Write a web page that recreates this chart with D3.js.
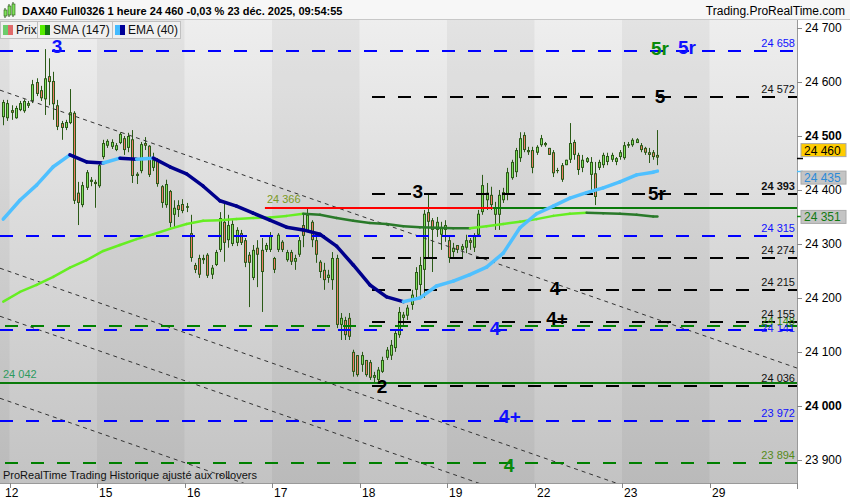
<!DOCTYPE html>
<html><head><meta charset="utf-8">
<script src="https://cdn.jsdelivr.net/npm/d3@7/dist/d3.min.js"></script>
<style>
html,body{margin:0;padding:0;background:#fff;}
svg{display:block;font-family:Arial,"Liberation Sans",sans-serif;}
</style></head><body>
<svg id="c" width="850" height="500"></svg>
<script>
// ---------- DATA ----------
const dayLabels = ["12","15","16","17","18","19","22","23","29"];
const barsBefore = 2, barsPerDay = 21;
const open = [24535,24533,24548,24533,24548,24546,24556,24565,24600,24585,
24568,24611,24602,24557,24524,24515,24524,24543,24395,24372,
24404,24415,24415,24407,24461,24482,24480,24474,24487,24496,
24478,24494,24426,24435,24487,24482,24441,24456,24407,24372,
24398,24354,24372,24374,24367,24320,24261,24274,24270,24280,
24243,24261,24289,24341,24307,24300,24302,24320,24307,24280,
24237,24293,24289,24289,24289,24274,24289,24304,24270,24285,
24267,24280,24335,24322,24341,24307,24267,24252,24237,24233,
24274,24150,24159,24163,24100,24094,24076,24085,24081,24052,
24048,24063,24089,24093,24107,24131,24163,24167,24187,24215,
24224,24252,24359,24344,24326,24317,24326,24307,24285,24298,
24289,24293,24307,24293,24317,24359,24381,24391,24354,24354,
24381,24391,24422,24433,24459,24502,24474,24474,24469,24483,
24483,24478,24470,24437,24446,24446,24456,24489,24465,24441,
24452,24428,24431,24441,24446,24452,24456,24452,24461,24459,
24482,24483,24487,24483,24478,24470,24470,24465];
const high = [24567,24567,24557,24556,24565,24568,24565,24604,24607,24593,
24661,24644,24619,24567,24528,24530,24587,24546,24415,24415,
24437,24424,24419,24450,24493,24494,24494,24487,24507,24500,
24506,24511,24433,24489,24498,24483,24469,24459,24409,24419,
24400,24381,24381,24383,24376,24354,24265,24280,24280,24283,
24261,24289,24359,24376,24354,24344,24331,24326,24311,24285,
24298,24307,24311,24302,24322,24276,24320,24307,24289,24289,
24280,24313,24357,24367,24344,24320,24270,24265,24252,24285,
24280,24172,24165,24172,24104,24094,24100,24085,24085,24063,
24072,24091,24109,24122,24141,24183,24174,24187,24215,24257,
24276,24363,24391,24348,24350,24341,24344,24313,24302,24298,
24300,24317,24311,24320,24363,24428,24413,24406,24378,24400,
24404,24441,24456,24478,24507,24507,24480,24480,24483,24502,
24489,24478,24474,24441,24450,24456,24524,24493,24469,24465,
24461,24461,24452,24456,24469,24469,24469,24461,24474,24489,
24489,24496,24496,24487,24480,24478,24474,24511];
const low = [24520,24528,24530,24532,24546,24543,24552,24561,24574,24565,
24539,24557,24530,24511,24493,24511,24522,24374,24335,24368,
24400,24407,24367,24404,24457,24478,24476,24472,24485,24465,
24470,24413,24411,24431,24474,24424,24435,24406,24367,24367,
24331,24331,24350,24357,24359,24267,24246,24237,24263,24237,
24235,24259,24285,24267,24293,24296,24296,24298,24257,24183,
24233,24220,24174,24285,24285,24246,24285,24285,24267,24261,
24252,24276,24294,24322,24294,24265,24237,24215,24228,24215,
24144,24122,24122,24122,24054,24054,24063,24054,24048,24043,
24043,24061,24085,24085,24100,24126,24150,24159,24178,24200,
24200,24200,24274,24248,24313,24289,24304,24265,24276,24283,
24274,24283,24289,24285,24313,24354,24363,24363,24326,24326,
24376,24381,24419,24424,24452,24470,24465,24431,24465,24480,
24480,24465,24424,24431,24415,24446,24450,24456,24428,24433,
24450,24400,24372,24437,24441,24446,24452,24446,24456,24456,
24478,24480,24487,24470,24465,24450,24456,24446];
const close = [24563,24561,24543,24552,24561,24565,24561,24596,24578,24570,
24607,24600,24559,24517,24515,24526,24544,24380,24376,24409,
24433,24419,24411,24446,24487,24491,24489,24483,24504,24474,
24500,24426,24430,24485,24482,24428,24456,24411,24376,24411,
24339,24367,24363,24361,24370,24274,24252,24243,24274,24241,
24256,24285,24348,24302,24335,24337,24326,24302,24265,24265,
24289,24280,24248,24298,24315,24252,24317,24289,24285,24267,
24274,24307,24315,24354,24307,24280,24248,24233,24243,24274,
24150,24163,24131,24128,24063,24057,24094,24057,24052,24057,
24067,24085,24104,24113,24135,24174,24169,24182,24206,24248,
24261,24356,24341,24326,24341,24330,24335,24274,24293,24289,
24296,24307,24302,24315,24356,24409,24395,24372,24367,24391,
24396,24433,24452,24474,24496,24474,24470,24441,24480,24496,
24487,24465,24431,24435,24419,24456,24487,24465,24437,24456,
24459,24452,24387,24452,24465,24463,24465,24459,24470,24483,
24485,24493,24494,24474,24469,24465,24461,24460];

const indBars = [0,4,8,12,16,20,24,28,32,36,40,44,48,52,56,60,64,68,72,76,80,84,88,92,96,100,104,108,112,116,120,124,128,132,136,140,144,148,152,156,157];
const ema40 = [24346,24381,24409,24443,24465,24452,24450,24459,24457,24459,24443,24430,24407,24380,24370,24357,24344,24331,24326,24318,24296,24261,24224,24202,24193,24200,24222,24231,24243,24257,24283,24330,24356,24370,24385,24395,24404,24415,24428,24433,24435];
const sma147 = [24193,24211,24224,24239,24256,24270,24287,24298,24309,24318,24328,24337,24343,24344,24346,24348,24349,24352,24356,24354,24348,24343,24339,24337,24333,24331,24330,24329,24329,24333,24337,24341,24346,24352,24356,24358,24357,24356,24354,24351,24351];

const yTicks = [23900,24000,24100,24200,24300,24400,24500,24600,24700];
const blueLevels = [24658,24315,24141,23972];
const blackLevels = [24572,24393,24274,24215,24155,24036];
const greenDashLevels = [24148,23894];
const supportLevel = 24042;
const resistLevel = 24366;
const blackStartBar = 89;
const resistStartBar = 63.3, resistBreakBar = 118;
// trend channel: [bar, value] pairs
const trendLines = [
  [[-0.28,24585],[191,24070]],
  [[-0.28,24255],[191,23740]],
  [[-0.28,24166],[191,23651]],
  [[-0.28,24014],[191,23499]]
];
const waveLabels = [
  {t:"3",bar:13.4,v:24666,c:"blue"},
  {t:"5r",bar:158.1,v:24663,c:"green"},
  {t:"5r",bar:164.6,v:24665,c:"blue"},
  {t:"5",bar:158.1,v:24574,c:"black"},
  {t:"3",bar:100.0,v:24398,c:"black"},
  {t:"5r",bar:157.4,v:24394,c:"black"},
  {t:"4",bar:132.9,v:24219,c:"black"},
  {t:"4+",bar:133.4,v:24163,c:"black"},
  {t:"4",bar:118.5,v:24144,c:"blue"},
  {t:"2",bar:91.4,v:24037,c:"black"},
  {t:"4+",bar:122.1,v:23981,c:"blue"},
  {t:"4",bar:121.9,v:23891,c:"green"}
];
const lastPrice = 24460, lastEma = 24435, lastSma = 24351;

// ---------- DRAW ----------
const svg = d3.select('#c');
const PR = 797, PT = 20, PB = 483;
const x = d3.scaleLinear().domain([-0.28, 191]).range([0, PR]);
const y = d3.scaleLinear().domain([23857, 24715]).range([PB, PT]);
const fmt = v => d3.format(",")(v).replace(",", " ");
const colors = {blue:"#1010ff", green:"#0a8a0a", black:"#000"};

const defs = svg.append('defs');
const g1 = defs.append('linearGradient').attr('id','bg').attr('x1',0).attr('y1',0).attr('x2',0).attr('y2',1);
g1.append('stop').attr('offset','0%').attr('stop-color','#eeeeee');
g1.append('stop').attr('offset','100%').attr('stop-color','#c3c3c3');
defs.append('clipPath').attr('id','clip').append('rect').attr('x',0).attr('y',PT).attr('width',PR).attr('height',PB-PT);

svg.append('rect').attr('width',850).attr('height',500).attr('fill','#fff');
// title bar
svg.append('rect').attr('x',0).attr('y',0).attr('width',850).attr('height',PT).attr('fill','#f7f7f7');
svg.append('line').attr('x1',0).attr('x2',850).attr('y1',PT-0.5).attr('y2',PT-0.5).attr('stroke','#c8c8c8');

const plotG = svg.append('g').attr('clip-path','url(#clip)');
plotG.append('rect').attr('x',0).attr('y',PT).attr('width',PR).attr('height',PB-PT).attr('fill','url(#bg)');
// day bands
const bounds = d3.range(-1, dayLabels.length);
plotG.selectAll('rect.band').data(bounds.filter(k => k % 2 !== 0)).join('rect')
  .attr('x', k => x(barsBefore + barsPerDay*k)).attr('y', PT)
  .attr('width', x(barsPerDay) - x(0)).attr('height', PB-PT)
  .attr('fill','#000').attr('opacity',0.045);

// candles
const bars = open.map((o,i) => ({i, o, h:high[i], l:low[i], c:close[i]}));
const cg = plotG.append('g');
bars.forEach(b => {
  const cx = Math.round(x(b.i + 0.5));
  cg.append('line').attr('x1',cx+0.5).attr('x2',cx+0.5).attr('y1',y(b.h)).attr('y2',y(b.l))
    .attr('stroke','#2b5a17').attr('stroke-width',1);
  const top = Math.min(y(b.o), y(b.c)), bot = Math.max(y(b.o), y(b.c));
  const hgt = Math.max(1, bot-top);
  cg.append('rect').attr('x',cx-1).attr('y',top).attr('width',3).attr('height',hgt).attr('fill','#2b5a17');
  if (hgt > 2) cg.append('rect').attr('x',cx).attr('y',top+1).attr('width',1).attr('height',hgt-2)
    .attr('fill', b.c >= b.o ? '#7ee05a' : '#ee7b66');
});

// trend lines
trendLines.forEach(tl => {
  plotG.append('line').attr('x1',x(tl[0][0])).attr('y1',y(tl[0][1])).attr('x2',x(tl[1][0])).attr('y2',y(tl[1][1]))
    .attr('stroke','#333').attr('stroke-width',1).attr('stroke-dasharray','4,4');
});

// horizontal levels
const hline = (v, x0, col, dash, w) => plotG.append('line').attr('x1',x0).attr('x2',PR)
  .attr('y1',Math.round(y(v))).attr('y2',Math.round(y(v))).attr('stroke',col).attr('stroke-width',w||2)
  .attr('stroke-dasharray',dash||null);
blueLevels.forEach(v => hline(v, 0, '#0000ff', '13,13'));
greenDashLevels.forEach(v => hline(v, 5, '#008000', '13,13'));
blackLevels.forEach(v => hline(v, x(blackStartBar), '#000', '13,13'));
hline(supportLevel, 0, '#0a7a0a', null);
plotG.append('line').attr('x1',x(resistStartBar)).attr('x2',x(resistBreakBar))
  .attr('y1',Math.round(y(resistLevel))).attr('y2',Math.round(y(resistLevel))).attr('stroke','#ff0000').attr('stroke-width',2);
plotG.append('line').attr('x1',x(resistBreakBar)).attr('x2',PR)
  .attr('y1',Math.round(y(resistLevel))).attr('y2',Math.round(y(resistLevel))).attr('stroke','#0a7a0a').attr('stroke-width',2);

// indicators coloured by slope
function drawInd(vals, upCol, dnCol, w) {
  for (let k = 0; k < vals.length-1; k++) {
    const up = vals[k+1] > vals[k];
    plotG.append('line')
      .attr('x1', x(indBars[k]+0.5)).attr('y1', y(vals[k]))
      .attr('x2', x(indBars[k+1]+0.5)).attr('y2', y(vals[k+1]))
      .attr('stroke', up ? upCol : dnCol).attr('stroke-width', w).attr('stroke-linecap','round');
  }
}
drawInd(sma147, '#66ee22', '#2a7a2a', 2.5);
drawInd(ema40, '#4fc0ff', '#00008c', 3.5);

// labels in plot
const lbl = (txt, xx, yy, col, anchor, bold, size) => svg.append('text').attr('x',xx).attr('y',yy)
  .attr('fill',col).attr('font-size',size||11).attr('text-anchor',anchor||'end')
  .attr('font-weight',bold?'bold':'normal').text(txt);
blueLevels.filter(v => v !== 24141).forEach(v => lbl(fmt(v), 795, y(v)-4, '#1010ff'));
lbl(fmt(24141), 795, y(24141)+2, '#2020ff');
lbl(fmt(24148), 795, y(24148)-1, '#338811');
greenDashLevels.filter(v => v !== 24148).forEach(v => lbl(fmt(v), 795, y(v)-4, '#558a1a'));
blackLevels.forEach(v => lbl(fmt(v), 795, y(v)-4, '#111', 'end', v === 24393));
lbl(fmt(resistLevel), x(resistStartBar)+2, y(resistLevel)-5, '#7a9a22', 'start');
lbl(fmt(supportLevel), 3, y(supportLevel)-5, '#2e9a5e', 'start');

waveLabels.forEach(w => svg.append('text').attr('x', x(w.bar)).attr('y', y(w.v)+7)
  .attr('text-anchor','middle').attr('font-size',19).attr('font-weight','bold')
  .attr('fill', colors[w.c]).text(w.t));

// footer
lbl('ProRealTime Trading  Historique ajusté aux rollovers', 3, 479, '#111', 'start', false, 11);

// right axis
svg.append('rect').attr('x',PR).attr('y',PT).attr('width',850-PR).attr('height',PB-PT+17).attr('fill','#fff');
svg.append('line').attr('x1',PR+0.5).attr('x2',PR+0.5).attr('y1',PT).attr('y2',PB+6).attr('stroke','#999');
yTicks.forEach(v => {
  svg.append('line').attr('x1',PR).attr('x2',PR+5).attr('y1',Math.round(y(v))+0.5).attr('y2',Math.round(y(v))+0.5).attr('stroke','#888');
  svg.append('text').attr('x',PR+8).attr('y',y(v)+4).attr('font-size',12)
    .attr('font-weight', v % 500 === 0 ? 'bold' : 'normal').attr('fill','#000').text(fmt(v));
});
// value boxes
function vbox(v, yTop, bg, col, tick) {
  svg.append('line').attr('x1',PR).attr('x2',PR+6).attr('y1',Math.round(y(v))+0.5).attr('y2',Math.round(y(v))+0.5).attr('stroke',tick).attr('stroke-width',1.5);
  svg.append('rect').attr('x',PR+4).attr('y',yTop).attr('width',45).attr('height',13).attr('fill',bg).attr('stroke','#aaa');
  svg.append('text').attr('x',PR+7).attr('y',yTop+11).attr('font-size',12).attr('fill',col).text(fmt(v));
}
vbox(lastEma, y(lastEma), '#c4c4c4', '#2a8ad8', '#4fc0ff');
vbox(lastPrice, y(lastPrice)-14, '#ffcc00', '#000', '#000');
vbox(lastSma, y(lastSma)-6, '#c4c4c4', '#127a12', '#0a8a0a');

// bottom axis
svg.append('rect').attr('x',0).attr('y',PB).attr('width',850).attr('height',500-PB).attr('fill','#fff');
svg.append('line').attr('x1',0).attr('x2',PR).attr('y1',PB+0.5).attr('y2',PB+0.5).attr('stroke','#999');
dayLabels.forEach((d,k) => {
  const xx = Math.round(x(barsBefore + barsPerDay*k));
  svg.append('line').attr('x1',xx+0.5).attr('x2',xx+0.5).attr('y1',PB).attr('y2',PB+5).attr('stroke','#888');
  svg.append('text').attr('x',k === 0 ? 5 : xx+2).attr('y',497).attr('font-size',12).attr('fill','#000').text(d);
});
svg.append('line').attr('x1',PR+0.5).attr('x2',PR+0.5).attr('y1',PB).attr('y2',PB+6).attr('stroke','#888');

// title
const ic = svg.append('g');
[[4,10,6],[8,6,9],[12,4,11]].forEach(a => {
  ic.append('line').attr('x1',a[0]+1).attr('x2',a[0]+1).attr('y1',a[1]-2).attr('y2',a[1]+a[2]+2).attr('stroke','#2b5a17');
  ic.append('rect').attr('x',a[0]).attr('y',a[1]).attr('width',3).attr('height',a[2]).attr('fill','#7ee05a').attr('stroke','#2b5a17').attr('stroke-width',0.6);
});
lbl('DAX40 Full0326 1 heure 24 460 -0,03 % 23 déc. 2025, 09:54:55', 22, 15, '#000', 'start', true, 11);
lbl('Trading.ProRealTime.com', 845, 15, '#000', 'end', false, 12);

// legend
const leg = [
  {t:'Prix', x0:0, w:37, c1:'#6ccc6c', c2:'#e06a6a'},
  {t:'SMA (147)', x0:37, w:75, c1:'#55ee00', c2:'#117711'},
  {t:'EMA (40)', x0:112, w:68, c1:'#44bbff', c2:'#000099'}
];
leg.forEach(l => {
  svg.append('rect').attr('x',l.x0+0.5).attr('y',21.5).attr('width',l.w).attr('height',17).attr('fill','#f0f0f0').attr('stroke','#c0c0c0');
  svg.append('rect').attr('x',l.x0+3).attr('y',25).attr('width',5).attr('height',10).attr('fill',l.c1);
  svg.append('rect').attr('x',l.x0+8).attr('y',25).attr('width',5).attr('height',10).attr('fill',l.c2);
  svg.append('text').attr('x',l.x0+16).attr('y',34).attr('font-size',12).attr('fill','#111').text(l.t);
});
</script>
</body></html>
